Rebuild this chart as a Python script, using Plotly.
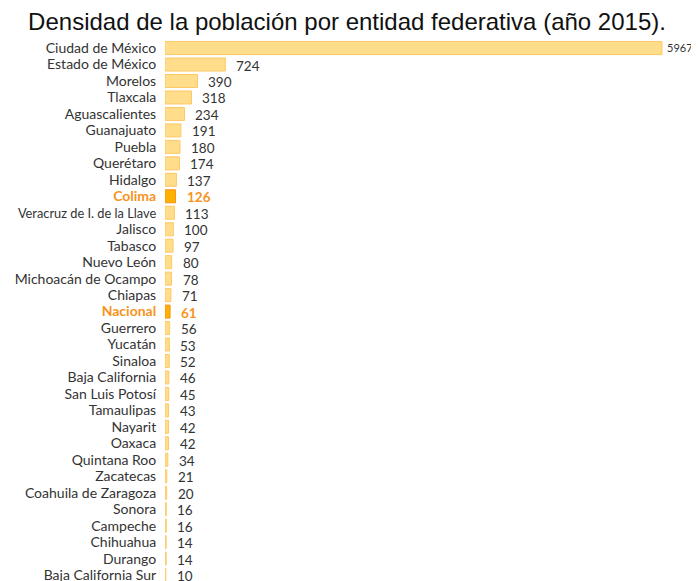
import plotly.graph_objects as go

entidades = ["Ciudad de México", "Estado de México", "Morelos", "Tlaxcala", "Aguascalientes",
             "Guanajuato", "Puebla", "Querétaro", "Hidalgo", "Colima",
             "Veracruz de I. de la Llave", "Jalisco", "Tabasco", "Nuevo León", "Michoacán de Ocampo",
             "Chiapas", "Nacional", "Guerrero", "Yucatán", "Sinaloa",
             "Baja California", "San Luis Potosí", "Tamaulipas", "Nayarit", "Oaxaca",
             "Quintana Roo", "Zacatecas", "Coahuila de Zaragoza", "Sonora", "Campeche",
             "Chihuahua", "Durango", "Baja California Sur"]
densidad = [5967, 724, 390, 318, 234, 191, 180, 174, 137, 126,
            113, 100, 97, 80, 78, 71, 61, 56, 53, 52,
            46, 45, 43, 42, 42, 34, 21, 20, 16, 16,
            14, 14, 10]
destacados = ["Colima", "Nacional"]

ORANGE = "#F7931E"
fills = ["#FFB000" if e in destacados else "#FFDD8A" for e in entidades]
lines = [ORANGE if e in destacados else "#FFC866" for e in entidades]


def etiqueta(e):
    if e in destacados:
        return f"<b><span style='color:{ORANGE}'>{e}</span></b>"
    if len(e) > 22:
        return f"<span style='font-size:12.8px'>{e}</span>"
    return e


ticktext = [etiqueta(e) for e in entidades]

fig = go.Figure(go.Bar(
    x=densidad, y=entidades, orientation="h",
    marker=dict(color=fills, line=dict(color=lines, width=1)),
    hoverinfo="x+y",
))

for e, v in zip(entidades, densidad):
    hl = e in destacados
    fig.add_annotation(
        x=v, y=e, xref="x", yref="y", xanchor="left", yanchor="middle",
        xshift=3 if v > 1000 else 9, yshift=-1 if v < 1000 else 1,
        text=f"<b>{v}</b>" if hl else str(v), showarrow=False,
        font=dict(family="Lato, Open Sans, sans-serif", size=13.5 if v < 1000 else 11,
                  color=ORANGE if hl else "#333333"),
    )

fig.update_layout(
    width=691, height=573,
    margin=dict(l=157, r=0, t=32, b=0),
    paper_bgcolor="white", plot_bgcolor="white",
    bargap=0.21,
    showlegend=False,
    title=dict(text="Densidad de la población por entidad federativa (año 2015).",
               x=0.4906, xanchor="center", y=0.9756, yanchor="middle",
               font=dict(family="Liberation Sans, Arial, sans-serif", size=24, color="#111111")),
    xaxis=dict(range=[0, 6411], visible=False),
    yaxis=dict(
        tickmode="array", tickvals=entidades, ticktext=ticktext,
        range=[32.36, -0.49], showgrid=False, zeroline=False, showline=False,
        ticks="outside", ticklen=5, tickcolor="rgba(0,0,0,0)", automargin=False,
        tickfont=dict(family="Lato, Open Sans, sans-serif", size=14, color="#333333"),
    ),
)

fig.write_html("out.html")
